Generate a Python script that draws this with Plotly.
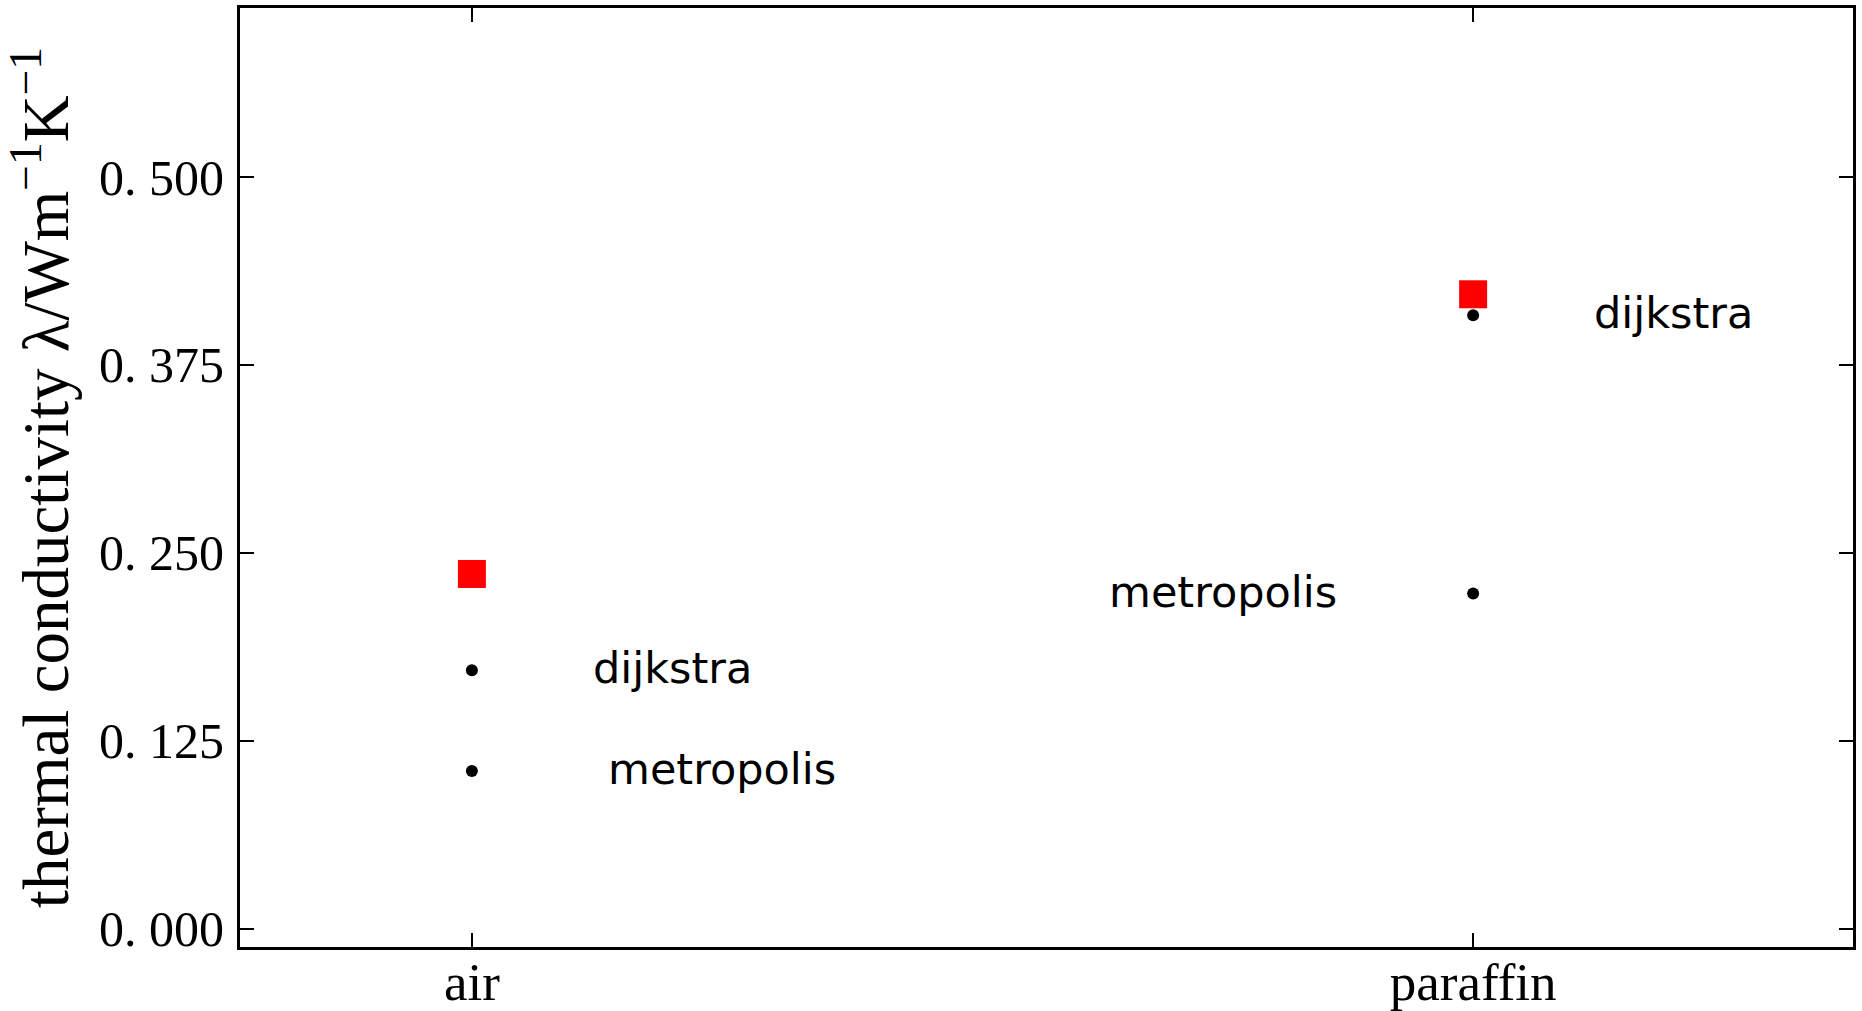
import plotly.graph_objects as go

# Materials on the x axis
materials = ["air", "paraffin"]
material_pos = [0, 1]

# Thermal conductivity values (W m^-1 K^-1)
reference_values = [0.236, 0.422]
dijkstra_values = [0.172, 0.408]
metropolis_values = [0.105, 0.223]

# Label placement along x, relative to each material position
dijkstra_label_dx = [0.2, 0.2]
metropolis_label_dx = [0.25, -0.25]

# Y axis ticks
ytick_vals = [0.0, 0.125, 0.25, 0.375, 0.5]
ytick_text = ["0. 000", "0. 125", "0. 250", "0. 375", "0. 500"]

SERIF = "Liberation Serif, DejaVu Serif, serif"
SANS = "DejaVu Sans, sans-serif"

fig = go.Figure()

# Reference values: red squares
fig.add_trace(go.Scatter(
    x=material_pos, y=reference_values, mode="markers",
    marker=dict(symbol="square", size=28, color="#ff0000", line=dict(width=0)),
    showlegend=False, hoverinfo="skip",
))

# Simulated values: black dots
sim_x = material_pos + material_pos
sim_y = dijkstra_values + metropolis_values
fig.add_trace(go.Scatter(
    x=sim_x, y=sim_y, mode="markers",
    marker=dict(symbol="circle", size=12, color="black", line=dict(width=0)),
    showlegend=False, hoverinfo="skip",
))

# Method labels next to the dots
for xp, y, dx in zip(material_pos, dijkstra_values, dijkstra_label_dx):
    fig.add_annotation(x=xp + dx, y=y, text="dijkstra", showarrow=False,
                       xanchor="center", yanchor="middle", yshift=2,
                       font=dict(family=SANS, size=43, color="black"))
for xp, y, dx in zip(material_pos, metropolis_values, metropolis_label_dx):
    fig.add_annotation(x=xp + dx, y=y, text="metropolis", showarrow=False,
                       xanchor="center", yanchor="middle", yshift=2,
                       font=dict(family=SANS, size=43, color="black"))

axis_common = dict(
    showline=True, linecolor="black", linewidth=3, mirror="allticks",
    ticks="inside", ticklen=14, tickwidth=2, tickcolor="black",
    showgrid=False, zeroline=False,
)

fig.update_xaxes(
    range=[-0.2316, 1.3794], tickmode="array",
    tickvals=material_pos, ticktext=materials,
    tickfont=dict(family=SERIF, size=53, color="black"),
    ticklabelstandoff=-14,
    **axis_common,
)
fig.update_yaxes(
    range=[-0.0121, 0.6124], tickmode="array",
    tickvals=ytick_vals, ticktext=ytick_text,
    tickfont=dict(family=SERIF, size=50, color="black"),
    ticklabelstandoff=3,
    title=dict(
        text="thermal conductivity λ/Wm<sup>−1</sup>K<sup>−1</sup>",
        font=dict(family=SERIF, size=65, color="black"),
        standoff=16,
    ),
    **axis_common,
)

fig.update_layout(
    width=1862, height=1011,
    margin=dict(l=240, r=9, t=8, b=64, autoexpand=False),
    paper_bgcolor="white", plot_bgcolor="white",
)

fig.write_html("out.html")
